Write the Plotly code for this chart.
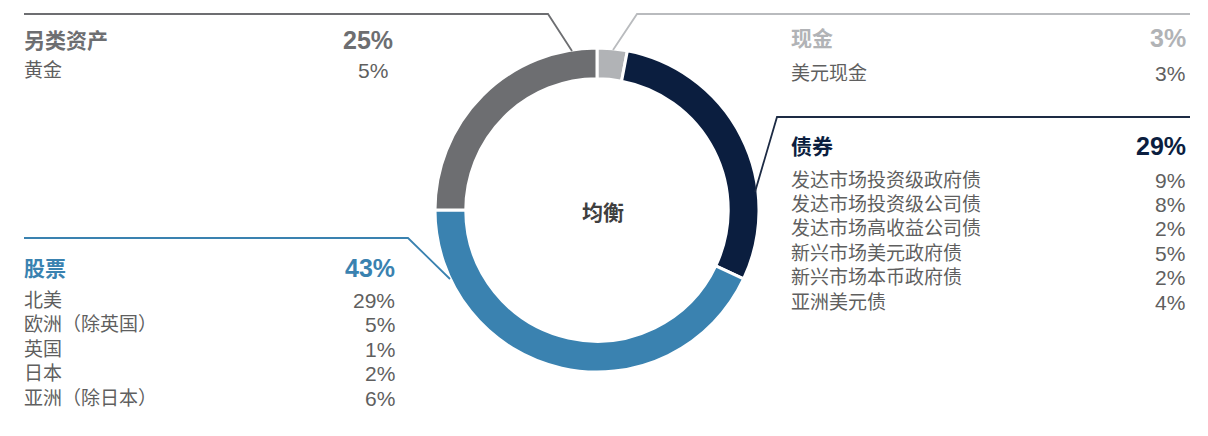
import plotly.graph_objects as go

W, H = 1208, 436

# ring data, clockwise from 12 o'clock
groups = ["现金", "债券", "股票", "另类资产"]
group_pct = [3, 29, 43, 25]
group_colors = ["#b1b3b6", "#0b1e3f", "#3a82b0", "#6d6e71"]

cash_items = ["美元现金"]
cash_pct = [3]
bond_items = ["发达市场投资级政府债", "发达市场投资级公司债", "发达市场高收益公司债",
              "新兴市场美元政府债", "新兴市场本币政府债", "亚洲美元债"]
bond_pct = [9, 8, 2, 5, 2, 4]
equity_items = ["北美", "欧洲（除英国）", "英国", "日本", "亚洲（除日本）"]
equity_pct = [29, 5, 1, 2, 6]
alt_items = ["黄金"]
alt_pct = [5]

center_label = "均衡"

FONT = "Liberation Sans, Arial, Noto Sans CJK SC, sans-serif"
ITEM_COLOR = "#5f5f5f"


def px(x):
    return x / W


def py(y):
    return 1 - y / H


cx, cy, R = 597, 210, 162

fig = go.Figure(go.Pie(
    labels=groups, values=group_pct, sort=False, direction="clockwise",
    rotation=0, hole=0.81, textinfo="none", hoverinfo="label+percent",
    marker=dict(colors=group_colors, line=dict(color="white", width=3)),
    domain=dict(x=[px(cx - R), px(cx + R)], y=[py(cy + R), py(cy - R)]),
    showlegend=False,
))


def add_text(x, y, text, anchor, size, color, bold=False):
    if bold:
        text = "<b>" + text + "</b>"
    fig.add_annotation(x=px(x), y=py(y), xref="paper", yref="paper", text=text,
                       showarrow=False, xanchor=anchor, yanchor="middle",
                       font=dict(family=FONT, size=size, color=color))


def add_block(x_left, x_head, x_right, y_head, name, pct, items, vals, color, first_gap, step):
    add_text(x_left, y_head, name, "left", 21, color, bold=True)
    add_text(x_head, y_head, f"{pct}%", "right", 25, color, bold=True)
    for i, (it, v) in enumerate(zip(items, vals)):
        y = y_head + first_gap + i * step
        add_text(x_left, y, it, "left", 19, ITEM_COLOR)
        add_text(x_right, y, f"{v}%", "right", 21, ITEM_COLOR)


add_block(22, 395, 390, 40, groups[3], group_pct[3], alt_items, alt_pct, group_colors[3], 31, 24.5)
add_block(22, 397, 397, 268, groups[2], group_pct[2], equity_items, equity_pct, group_colors[2], 32, 24.5)
add_block(789, 1188, 1187, 38, groups[0], group_pct[0], cash_items, cash_pct, group_colors[0], 35, 24.5)
add_block(789, 1188, 1187, 146, groups[1], group_pct[1], bond_items, bond_pct, group_colors[1], 34, 24.4)

add_text(603, 212, center_label, "center", 21, "#3f3f3f", bold=True)


def leader(points, color):
    path = "M " + " L ".join(f"{px(a)},{py(b)}" for a, b in points)
    fig.add_shape(type="path", path=path, xref="paper", yref="paper",
                  line=dict(color=color, width=1.8))


leader([(24, 14), (548, 14), (572, 51)], "#6d6e71")
leader([(1190, 14), (637, 14), (613, 50)], "#b9bbbe")
leader([(1190, 117), (777, 117), (755, 192)], "#1d2b44")
leader([(24, 238), (408, 238), (450, 279)], "#3a82b0")

fig.update_layout(
    width=W, height=H, margin=dict(l=0, r=0, t=0, b=0),
    paper_bgcolor="white", plot_bgcolor="white",
    font=dict(family=FONT),
)

fig.write_html("out.html", config={"displayModeBar": False},
               post_script="document.body.style.margin='0';")
